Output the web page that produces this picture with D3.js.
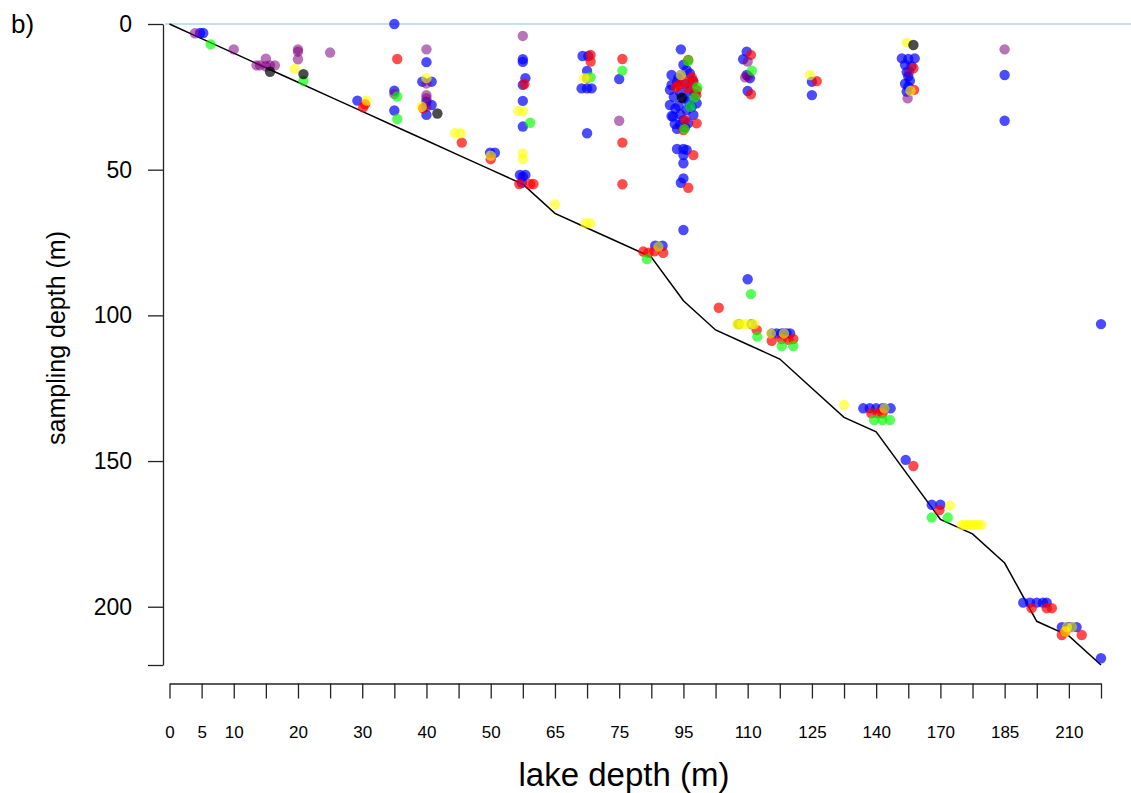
<!DOCTYPE html>
<html>
<head>
<meta charset="utf-8">
<script src="https://cdn.jsdelivr.net/npm/d3@7/dist/d3.min.js"></script>
<style>
  html, body { margin: 0; padding: 0; background: #fff; }
  svg { display: block; font-family: "Liberation Sans", Arial, sans-serif; }
</style>
</head>
<body>
<svg id="chart" width="1131" height="793"></svg>
<script>
// Lake depth categories (m), one per position along the x axis
const lakeDepths = [0, 5, 10, 15, 20, 25, 30, 35, 40, 45, 50, 55, 65, 70, 75, 80,
                    95, 105, 110, 115, 125, 135, 140, 155, 170, 175, 185, 205, 210, 220];
// Which category positions carry a printed label
const labelledDepths = [0, 5, 10, 20, 30, 40, 50, 65, 75, 95, 110, 125, 140, 170, 185, 210];
const depthTicks = [0, 50, 100, 150, 200, 220];

// Samples: [lake depth, horizontal jitter (category units), sampling depth]
const blueSamples = [
  [5, -0.05, 3.1], [5, 0.05, 3.1],
  [30, -0.15, 26.3],
  [35, 0, 0], [35, 0, 22.9], [35, 0, 29.7],
  [40, 0, 13.1], [40, -0.13, 19.8], [40, 0.16, 19.8], [40, 0, 26.7], [40, 0.16, 27.8], [40, 0, 31.2],
  [50, -0.02, 44.2], [50, 0.13, 44.2],
  [55, 0, 12.1], [55, 0, 13], [55, 0.08, 18.6], [55, 0, 20.9], [55, 0, 26.4], [55, 0, 35.2],
  [55, -0.09, 51.8], [55, 0.08, 51.8], [55, 0, 52.4], [55, -0.03, 54.5],
  [70, -0.14, 11], [70, 0.04, 11], [70, 0, 16.1], [70, 0, 18.6], [70, -0.17, 22.1], [70, 0, 22.1],
  [70, 0.14, 22.1], [70, 0, 37.5],
  [75, 0, 18.9],
  [80, 0.12, 76.1], [80, 0.35, 76.1], [80, 0.22, 76.4],
  [95, -0.08, 8.7], [95, 0, 14], [95, 0.1, 15.8], [95, -0.37, 17.5], [95, -0.08, 17.5], [95, -0.16, 18.6],
  [95, 0.2, 17], [95, -0.37, 20.9], [95, -0.2, 20], [95, 0.05, 20.5], [95, 0.3, 19.5], [95, -0.42, 22.6],
  [95, -0.1, 23.5], [95, 0.2, 23], [95, 0.35, 24], [95, -0.3, 25], [95, 0, 25.5], [95, 0.15, 26.5],
  [95, -0.42, 27.8], [95, -0.15, 28], [95, 0.41, 27.2], [95, 0.1, 29.5], [95, -0.37, 31.6],
  [95, -0.1, 31], [95, 0.31, 31.2], [95, 0, 33], [95, -0.27, 34.3], [95, 0.15, 34], [95, -0.2, 36],
  [95, 0.05, 35.5], [95, -0.32, 31.8], [95, -0.11, 34.6], [95, -0.25, 29], [95, 0.25, 28.5],
  [95, -0.2, 42.9], [95, 0, 42.9], [95, 0.1, 43.2], [95, 0, 45], [95, 0, 47.8], [95, 0, 53],
  [95, -0.08, 54.5], [95, 0, 70.7],
  [110, -0.03, 9.5], [110, -0.14, 12.1], [110, -0.03, 17.5], [110, 0.07, 18.6], [110, 0, 23],
  [110, 0, 87.6], [110, -0.28, 103], [110, 0.12, 103],
  [115, -0.25, 106.2], [115, -0.1, 106.2], [115, 0.06, 106.2], [115, 0.21, 106.2], [115, 0.32, 106.2],
  [115, 0.13, 106.2],
  [125, 0, 19.8], [125, 0, 24.4],
  [140, -0.4, 131.9], [140, -0.2, 131.9], [140, 0, 131.9], [140, 0.2, 131.9], [140, 0.45, 131.9],
  [140, 0.26, 131.9],
  [155, -0.08, 149.6],
  [155, -0.2, 11.8], [155, 0.2, 11.8], [155, 0, 12], [155, -0.1, 14], [155, 0.1, 14.5],
  [155, -0.05, 16.5], [155, 0, 18], [155, 0.05, 19.5], [155, -0.1, 20.5], [155, 0, 21.5], [155, -0.05, 23.2],
  [170, -0.27, 165], [170, 0, 165],
  [185, 0, 17.5], [185, 0, 33.2],
  [205, -0.42, 198.6], [205, -0.21, 198.6], [205, 0, 198.6], [205, 0.19, 198.6], [205, 0.31, 198.6],
  [210, -0.22, 207], [210, 0, 207], [210, 0.24, 207], [210, -0.06, 207], [210, 0.1, 207],
  [220, 0, 217.7], [220, 0, 103]
];

const redSamples = [
  [30, 0.09, 27.5], [30, 0.03, 28.6],
  [35, 0.09, 12],
  [40, -0.1, 28.9],
  [45, 0.1, 40.7],
  [50, 0, 46.4],
  [55, 0.05, 20.6], [55, -0.11, 54.9], [55, 0.22, 54.9], [55, 0.33, 54.9],
  [70, 0.11, 10.6], [70, 0.11, 12.9],
  [75, 0.1, 12], [75, 0.1, 40.7], [75, 0.1, 55],
  [80, -0.25, 78.1], [80, -0.09, 78.5], [80, 0.37, 78.5], [80, 0.1, 78],
  [95, 0.15, 12.3], [95, 0.26, 18.3], [95, 0.05, 19.8], [95, 0.31, 19.8], [95, -0.23, 21.7],
  [95, 0.15, 22.1], [95, 0.41, 22.6], [95, -0.15, 20.9], [95, 0.4, 24.4], [95, 0.05, 32.9],
  [95, 0, 36.4], [95, 0.41, 34.1], [95, 0.31, 45], [95, 0.15, 56.2],
  [105, 0.1, 97.4],
  [110, 0.1, 10.6], [110, 0.1, 24.1], [110, 0.28, 105],
  [115, -0.25, 108.7], [115, 0.06, 108.1], [115, 0.27, 108.4], [115, 0.42, 108.1],
  [125, 0.15, 19.6],
  [140, -0.15, 133.6], [140, 0.05, 133.6], [140, 0.2, 133.6],
  [155, 0.16, 151.7], [155, 0.16, 15.2], [155, 0.18, 22.6],
  [170, -0.03, 166.8],
  [205, -0.16, 200.5], [205, 0.31, 200.5], [205, 0.47, 200.5],
  [210, -0.22, 209.7], [210, 0.4, 209.7], [210, -0.11, 208.5]
];

const purpleSamples = [
  [5, -0.21, 3.2],
  [10, 0, 8.7],
  [15, -0.29, 14.2], [15, 0, 11.9], [15, -0.18, 14.2], [15, 0.13, 14.2], [15, 0.28, 14.2], [15, 0, 14.5],
  [20, 0, 8.7], [20, 0, 9.5], [20, 0, 12.1],
  [25, 0, 9.8],
  [35, 0, 24],
  [40, 0, 8.7], [40, 0, 20.4], [40, 0, 24.4], [40, 0, 25.5], [40, 0, 28.4],
  [55, 0, 4.1],
  [75, 0, 33.2],
  [110, 0, 12.9], [110, -0.08, 18.3], [110, 0.02, 18],
  [155, 0.03, 16.4], [155, -0.02, 25.5],
  [185, 0, 8.7]
];

const greenSamples = [
  [5, 0.28, 7],
  [20, 0.17, 19.5],
  [35, 0.09, 24.9], [35, 0.09, 32.6],
  [55, 0.23, 33.9],
  [70, 0.11, 18.3],
  [75, 0.1, 16],
  [80, -0.14, 80.7],
  [95, 0.15, 12.7], [95, 0.43, 21.7], [95, 0.35, 25.2], [95, 0.22, 28.4], [95, 0.03, 36.1],
  [110, 0.1, 92.7], [110, 0.13, 16], [110, 0.3, 107.3],
  [115, 0.06, 110.5], [115, 0.42, 110.5],
  [140, -0.06, 135.9], [140, 0.2, 135.9], [140, 0.43, 135.9],
  [170, -0.27, 169.4], [170, 0.23, 169.4]
];

const yellowSamples = [
  [20, -0.1, 15.4],
  [30, 0.14, 26.3],
  [40, 0, 18.6], [40, -0.15, 28.4],
  [45, -0.11, 37.5], [45, 0.07, 37.5],
  [50, 0, 45.2],
  [55, -0.14, 29.9], [55, 0.01, 29.9], [55, 0, 44.4], [55, 0, 46.4],
  [65, 0, 61.9],
  [70, -0.05, 68.4], [70, 0.1, 68.4], [70, -0.1, 18.6], [70, 0, 18.6],
  [80, 0.22, 76.4],
  [95, -0.08, 17.5],
  [110, -0.33, 103], [110, -0.28, 103], [110, -0.18, 103], [110, -0.05, 103], [110, 0.12, 103], [110, 0.2, 103],
  [115, -0.28, 106.2], [115, 0.13, 106.2],
  [125, -0.06, 17.5],
  [135, 0, 130.7],
  [140, 0.26, 131.9],
  [155, -0.04, 6.4], [155, 0.07, 22.9],
  [170, 0.3, 165.3],
  [175, -0.34, 171.9], [175, -0.24, 171.9], [175, -0.14, 171.9], [175, -0.04, 171.9],
  [175, 0.06, 171.9], [175, 0.16, 171.9], [175, 0.28, 171.9],
  [210, -0.06, 207], [210, 0.1, 207], [210, -0.11, 208.5]
];

const blackSamples = [
  [15, 0.13, 16.4],
  [20, 0.17, 17.2],
  [40, 0.34, 30.7],
  [95, -0.05, 25.3],
  [155, 0.16, 7.2]
];

// Drawing order: later groups sit on top
const groups = [
  { data: blueSamples, color: "#0000ff", opacity: 0.7 },
  { data: redSamples, color: "#ff0000", opacity: 0.7 },
  { data: purpleSamples, color: "#800080", opacity: 0.55 },
  { data: greenSamples, color: "#00ff00", opacity: 0.65 },
  { data: yellowSamples, color: "#ffff00", opacity: 0.6 },
  { data: blackSamples, color: "#000000", opacity: 0.7 }
];

const svg = d3.select("#chart");
const indexOf = new Map(lakeDepths.map((d, i) => [d, i]));

const x = d3.scaleLinear().domain([0, lakeDepths.length - 1]).range([169.5, 1101]);
const y = d3.scaleLinear().domain([0, 220]).range([24, 665]);

// Surface reference line
svg.append("line")
  .attr("x1", 165).attr("x2", 1131)
  .attr("y1", y(0)).attr("y2", y(0))
  .attr("stroke", "#add8e6").attr("stroke-width", 1.6);

// Lake bottom line
svg.append("path")
  .datum(lakeDepths)
  .attr("fill", "none")
  .attr("stroke", "#000")
  .attr("stroke-width", 1.5)
  .attr("d", d3.line().x((d, i) => x(i)).y(d => y(d)));

// Sample points
groups.forEach(g => {
  svg.append("g")
    .selectAll("circle")
    .data(g.data)
    .join("circle")
    .attr("cx", d => x(indexOf.get(d[0]) + d[1]))
    .attr("cy", d => y(d[2]))
    .attr("r", 5.2)
    .attr("fill", g.color)
    .attr("fill-opacity", g.opacity);
});

// Y axis
const yAxis = svg.append("g")
  .attr("transform", "translate(163,0)")
  .call(d3.axisLeft(y)
    .tickValues(depthTicks)
    .tickFormat(d => d === 220 ? "" : d)
    .tickSize(15)
    .tickSizeOuter(0)
    .tickPadding(16));
yAxis.attr("font-size", null).attr("font-family", null);
yAxis.selectAll("text").style("font-size", "23px").attr("fill", "#000");
yAxis.selectAll("line, path").attr("stroke", "#222").attr("stroke-width", 1.3);

// X axis (categorical lake depths)
const xAxis = svg.append("g")
  .attr("transform", "translate(0,683.5)")
  .call(d3.axisBottom(x)
    .tickValues(d3.range(lakeDepths.length))
    .tickFormat(i => labelledDepths.includes(lakeDepths[i]) ? lakeDepths[i] : "")
    .tickSize(15)
    .tickSizeOuter(0)
    .tickPadding(27));
xAxis.attr("font-size", null).attr("font-family", null);
xAxis.selectAll("text").style("font-size", "17px").attr("fill", "#000");
xAxis.selectAll("line, path").attr("stroke", "#222").attr("stroke-width", 1.3);

// Titles
svg.append("text")
  .attr("x", 624).attr("y", 786)
  .attr("text-anchor", "middle")
  .style("font-size", "33px")
  .text("lake depth (m)");

svg.append("text")
  .attr("transform", "translate(65,338) rotate(-90)")
  .attr("text-anchor", "middle")
  .style("font-size", "25px")
  .text("sampling depth (m)");

svg.append("text")
  .attr("x", 11).attr("y", 33)
  .style("font-size", "26px")
  .text("b)");
</script>
</body>
</html>
